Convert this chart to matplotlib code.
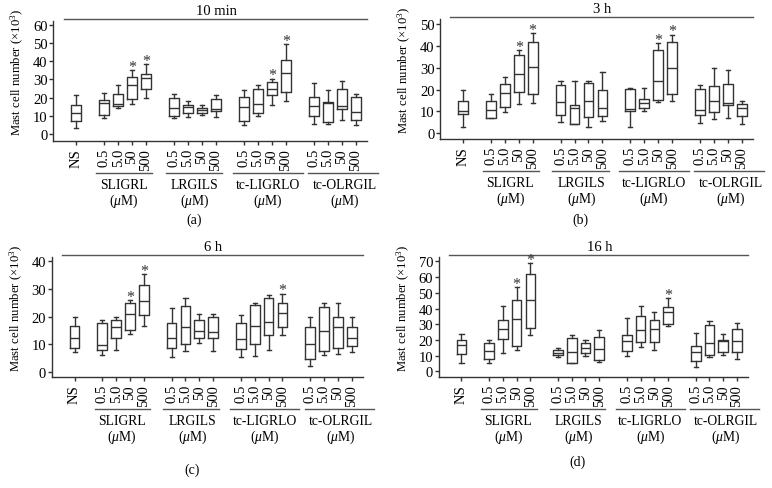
import matplotlib
matplotlib.use("Agg")
import matplotlib.pyplot as plt

plt.rcParams['font.family'] = ['Liberation Serif', 'DejaVu Serif']
plt.rcParams['mathtext.fontset'] = 'custom'
plt.rcParams['mathtext.rm'] = 'Liberation Serif'
plt.rcParams['mathtext.it'] = 'Liberation Serif:italic'

# box order: NS, SLIGRL x4, LRGILS x4, tc-LIGRLO x4, tc-OLRGIL x4
positions = [0, 2, 3, 4, 5, 7, 8, 9, 10, 12, 13, 14, 15, 17, 18, 19, 20]
tick_labels = ['NS'] + ['0.5', '5.0', '50', '500'] * 4
groups = ['SLIGRL', 'LRGILS', 'tc-LIGRLO', 'tc-OLRGIL']

# 10 min
lo_a = [3.3, 8.8, 14.6, 16.4, 20.0, 8.8, 9.4, 10.5, 9.5, 5.3, 10.0, 16.0, 18.0, 5.7, 5.8, 7.8, 5.0]
q1_a = [7.1, 10.8, 15.7, 19.5, 24.8, 10.0, 11.5, 11.5, 12.6, 7.5, 11.9, 21.7, 23.2, 10.0, 6.9, 13.7, 7.8]
med_a = [11.5, 17.3, 16.8, 27.0, 31.0, 14.6, 14.8, 13.5, 13.6, 14.8, 16.4, 24.6, 33.6, 15.3, 16.9, 15.7, 12.2]
q3_a = [16.2, 18.9, 22.3, 31.2, 32.8, 19.9, 15.8, 14.3, 19.5, 20.2, 25.0, 28.6, 40.5, 20.4, 17.5, 24.5, 20.6]
hi_a = [21.7, 22.6, 26.8, 35.2, 38.5, 22.0, 18.0, 15.8, 21.7, 24.1, 27.0, 30.5, 49.5, 27.9, 24.1, 29.0, 22.1]
star_a = [3, 4, 11, 12]

# 3 h
lo_b = [2.7, 7.0, 9.9, 13.4, 13.9, 5.3, 4.3, 3.0, 5.5, 2.7, 10.1, 14.5, 14.8, 4.9, 6.4, 7.2, 4.3]
q1_b = [8.7, 7.0, 11.9, 18.8, 17.8, 8.4, 4.3, 7.3, 7.8, 10.2, 11.7, 15.2, 17.8, 8.4, 9.9, 13.0, 7.8]
med_b = [10.1, 10.5, 18.4, 27.0, 30.2, 14.5, 11.6, 14.9, 11.4, 11.0, 13.9, 23.8, 30.0, 10.5, 14.6, 14.0, 11.7]
q3_b = [14.8, 14.8, 22.4, 36.0, 42.0, 22.0, 13.1, 22.9, 20.0, 20.1, 15.7, 38.1, 41.6, 20.3, 21.8, 22.4, 13.4]
hi_b = [20.0, 17.8, 25.6, 38.1, 45.7, 24.0, 24.0, 24.0, 28.0, 20.6, 20.9, 41.2, 45.1, 22.0, 29.7, 28.8, 14.9]
star_b = [3, 4, 11, 12]

# 6 h
lo_c = [7.0, 6.2, 8.0, 13.7, 16.7, 5.4, 7.7, 10.4, 7.4, 5.3, 5.8, 8.0, 13.5, 2.1, 6.0, 6.6, 7.1]
q1_c = [8.5, 8.0, 12.1, 15.1, 20.7, 8.7, 9.9, 12.4, 12.1, 8.2, 10.0, 13.4, 16.1, 4.8, 7.5, 8.5, 9.3]
med_c = [12.4, 9.7, 16.2, 21.1, 25.5, 12.4, 16.4, 14.9, 14.3, 12.0, 16.7, 18.0, 21.3, 10.0, 14.9, 16.1, 12.2]
q3_c = [16.6, 17.5, 18.6, 24.9, 31.3, 17.5, 23.7, 18.6, 19.9, 17.5, 24.2, 26.6, 24.9, 16.1, 23.6, 20.0, 16.1]
hi_c = [20.0, 18.9, 20.0, 26.0, 35.4, 23.0, 26.6, 20.8, 20.9, 20.5, 24.9, 27.7, 28.3, 20.0, 24.8, 24.8, 20.0]
star_c = [3, 4, 12]

# 16 h
lo_d = [5.1, 5.3, 11.5, 13.4, 22.9, 9.3, 5.1, 10.0, 5.7, 10.0, 15.3, 13.6, 28.6, 2.5, 8.9, 10.4, 7.6]
q1_d = [11.0, 7.6, 20.4, 16.1, 27.6, 10.6, 5.3, 11.7, 7.0, 12.7, 18.5, 18.7, 30.1, 6.4, 10.6, 12.5, 12.1]
med_d = [17.0, 12.9, 26.9, 33.1, 45.2, 11.7, 12.1, 15.1, 14.4, 19.3, 26.1, 27.2, 38.0, 12.5, 17.8, 19.3, 19.1]
q3_d = [19.7, 17.8, 32.5, 45.2, 61.9, 13.4, 21.4, 17.8, 21.6, 23.1, 35.0, 32.7, 40.7, 16.3, 29.3, 19.7, 27.2]
hi_d = [24.0, 19.7, 41.6, 53.5, 68.7, 14.6, 23.3, 19.9, 26.1, 33.7, 41.4, 37.8, 46.5, 24.6, 32.2, 24.0, 30.5]
star_d = [3, 4, 12]

LC = '#333333'


def draw_panel(ax, lo, q1, med, q3, hi, stars, title, ymax, ylim, label, label_y):
    stats = []
    for i in range(len(positions)):
        stats.append(dict(whislo=lo[i], q1=q1[i], med=med[i], q3=q3[i], whishi=hi[i], fliers=[]))
    lp = dict(color=LC, linewidth=1.0)
    ax.bxp(stats, positions=positions, widths=0.7, showfliers=False, capwidths=0.3,
           boxprops=lp, whiskerprops=lp, capprops=lp, medianprops=lp, manage_ticks=False)

    for i in stars:
        ax.annotate('*', xy=(positions[i], hi[i]), xytext=(0, -0.5), textcoords='offset points',
                    ha='center', va='baseline', fontsize=11.5, color=LC)

    ax.set_xlim(-1.65, 20.8)
    ax.set_ylim(*ylim)
    ax.set_yticks(range(0, ymax + 1, 10))
    ax.set_xticks(positions)
    ax.set_xticklabels(tick_labels, rotation=90, fontsize=10.5)
    ax.tick_params(axis='y', labelsize=10.5, length=3, pad=1, color=LC, width=1)
    ax.tick_params(axis='x', length=3, pad=2, color=LC, width=1)
    for s in ['top', 'right']:
        ax.spines[s].set_visible(False)
    for s in ['left', 'bottom']:
        ax.spines[s].set_color(LC)
        ax.spines[s].set_linewidth(1)

    ax.set_ylabel(r'Mast cell number ($\times$10$^3$)', fontsize=9.2)
    ax.yaxis.set_label_coords(-0.085, 0.58)

    tr = ax.get_xaxis_transform()
    ax.plot([-0.9, 20.8], [1.02, 1.02], transform=tr, color='#555555', lw=1, clip_on=False)
    ax.text(10.0, 1.035, title, transform=tr, ha='center', va='bottom', fontsize=10.5)

    spans = [(1.45, 5.45), (6.4, 10.45), (11.2, 16.2), (16.6, 21.6)]
    centers = [3.4, 8.5, 13.7, 19.2]
    for (x0, x1), xc, g in zip(spans, centers, groups):
        ax.plot([x0, x1], [-0.27, -0.27], transform=tr, color='#555555', lw=1, clip_on=False)
        ax.text(xc, -0.365, g, transform=tr, ha='center', va='center', fontsize=9.8)
        ax.text(xc, -0.495, r'($\mu$M)', transform=tr, ha='center', va='center', fontsize=9.8)
    ax.text(8.45, label_y, label, transform=tr, ha='center', va='center', fontsize=10)


fig = plt.figure(figsize=(7.72, 4.89), dpi=100)

ax_a = fig.add_axes([0.0687, 0.7096, 0.4067, 0.2454])
draw_panel(ax_a, lo_a, q1_a, med_a, q3_a, hi_a, star_a, '10 min', 60, (-3.7, 62.0), '(a)', -0.65)

ax_b = fig.add_axes([0.5699, 0.7137, 0.4055, 0.2454])
draw_panel(ax_b, lo_b, q1_b, med_b, q3_b, hi_b, star_b, '3 h', 50, (-2.6, 52.3), '(b)', -0.67)

ax_c = fig.add_axes([0.067, 0.227, 0.403, 0.2454])
draw_panel(ax_c, lo_c, q1_c, med_c, q3_c, hi_c, star_c, '6 h', 40, (-1.9, 41.6), '(c)', -0.77)

ax_d = fig.add_axes([0.5683, 0.227, 0.4007, 0.2454])
draw_panel(ax_d, lo_d, q1_d, med_d, q3_d, hi_d, star_d, '16 h', 70, (-3.6, 72.8), '(d)', -0.70)

fig.savefig('out.png', dpi=100)
